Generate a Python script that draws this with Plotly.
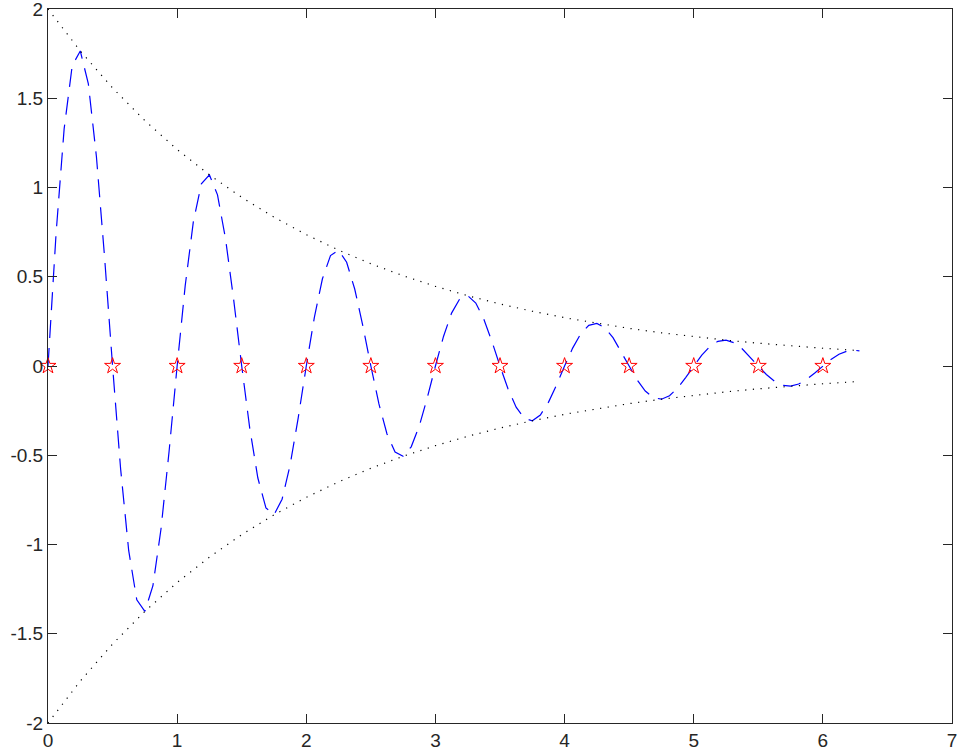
import plotly.graph_objects as go

# Damped oscillation samples
x_curve = [0, 0.0625, 0.125, 0.1875, 0.25, 0.3125, 0.375, 0.4375,
           0.5, 0.5625, 0.625, 0.6875, 0.75, 0.8125, 0.875, 0.9375,
           1.0, 1.0625, 1.125, 1.1875, 1.25, 1.3125, 1.375, 1.4375,
           1.5, 1.5625, 1.625, 1.6875, 1.75, 1.8125, 1.875, 1.9375,
           2.0, 2.0625, 2.125, 2.1875, 2.25, 2.3125, 2.375, 2.4375,
           2.5, 2.5625, 2.625, 2.6875, 2.75, 2.8125, 2.875, 2.9375,
           3.0, 3.0625, 3.125, 3.1875, 3.25, 3.3125, 3.375, 3.4375,
           3.5, 3.5625, 3.625, 3.6875, 3.75, 3.8125, 3.875, 3.9375,
           4.0, 4.0625, 4.125, 4.1875, 4.25, 4.3125, 4.375, 4.4375,
           4.5, 4.5625, 4.625, 4.6875, 4.75, 4.8125, 4.875, 4.9375,
           5.0, 5.0625, 5.125, 5.1875, 5.25, 5.3125, 5.375, 5.4375,
           5.5, 5.5625, 5.625, 5.6875, 5.75, 5.8125, 5.875, 5.9375,
           6.0, 6.0625, 6.125, 6.1875, 6.25, 6.283185]
y_curve = [0, 0.741818, 1.328523, 1.682404, 1.764994, 1.580474, 1.172424, 0.614986,
           0, -0.577729, -1.034655, -1.310258, -1.374579, -1.230875, -0.913085, -0.478952,
           0, 0.449936, 0.805791, 1.020430, 1.070523, 0.958606, 0.711111, 0.373009,
           0, -0.350410, -0.627551, -0.794712, -0.833725, -0.746564, -0.553814, -0.290499,
           0, 0.272899, 0.488736, 0.618921, 0.649304, 0.581423, 0.431310, 0.226241,
           0, -0.212535, -0.380628, -0.482017, -0.505679, -0.452814, -0.335906, -0.176196,
           0, 0.165522, 0.296433, 0.375395, 0.393823, 0.352651, 0.261603, 0.137222,
           0, -0.128909, -0.230863, -0.292358, -0.306710, -0.274646, -0.203737, -0.106869,
           0, 0.100394, 0.179796, 0.227689, 0.238865, 0.213893, 0.158670, 0.083229,
           0, -0.078187, -0.140025, -0.177323, -0.186028, -0.166580, -0.123572, -0.064819,
           0, 0.060892, 0.109052, 0.138100, 0.144880, 0.129733, 0.096239, 0.050481,
           0, -0.047423, -0.084929, -0.107553, -0.112833, -0.101036, -0.074950, -0.039315,
           0, 0.036933, 0.066143, 0.083762, 0.087874, 0.084550]

# Envelope samples
x_env = [0, 0.25, 0.5, 0.75, 1.0, 1.25, 1.5, 1.75, 2.0, 2.25, 2.5, 2.75, 3.0,
         3.25, 3.5, 3.75, 4.0, 4.25, 4.5, 4.75, 5.0, 5.25, 5.5, 5.75, 6.0, 6.25, 6.283185]
env_upper = [2, 1.764994, 1.557602, 1.374579, 1.213062, 1.070523, 0.944734, 0.833725,
             0.735758, 0.649304, 0.573010, 0.505679, 0.446260, 0.393823, 0.347548,
             0.306710, 0.270670, 0.238865, 0.210798, 0.186028, 0.164170, 0.144880,
             0.127856, 0.112833, 0.099574, 0.087874, 0.086428]
env_lower = [-2, -1.764994, -1.557602, -1.374579, -1.213062, -1.070523, -0.944734, -0.833725,
             -0.735758, -0.649304, -0.573010, -0.505679, -0.446260, -0.393823, -0.347548,
             -0.306710, -0.270670, -0.238865, -0.210798, -0.186028, -0.164170, -0.144880,
             -0.127856, -0.112833, -0.099574, -0.087874, -0.086428]

# Zero-crossing star markers
x_stars = [0, 0.5, 1.0, 1.5, 2.0, 2.5, 3.0, 3.5, 4.0, 4.5, 5.0, 5.5, 6.0]
y_stars = [0, 0, 0, 0, 0, 0, 0, 0, 0, 0, 0, 0, 0]

x_ticks = [0, 1, 2, 3, 4, 5, 6, 7]
x_ticktext = ["0", "1", "2", "3", "4", "5", "6", "7"]
y_ticks = [-2, -1.5, -1, -0.5, 0, 0.5, 1, 1.5, 2]
y_ticktext = ["-2", "-1.5", "-1", "-0.5", "0", "0.5", "1", "1.5", "2"]

fig = go.Figure()
fig.add_trace(go.Scatter(x=x_curve, y=y_curve, mode="lines",
                         line=dict(color="#0000ff", width=1.2, dash="18px,10px")))
fig.add_trace(go.Scatter(x=x_env, y=env_upper, mode="lines",
                         line=dict(color="#000000", width=1.2, dash="1.2px,6.5px")))
fig.add_trace(go.Scatter(x=x_env, y=env_lower, mode="lines",
                         line=dict(color="#000000", width=1.2, dash="1.2px,6.5px")))
fig.add_trace(go.Scatter(x=x_stars, y=y_stars, mode="markers", cliponaxis=False,
                         marker=dict(symbol="star-open", size=12, color="#ff0000",
                                     line=dict(color="#ff0000", width=1))))

axis_common = dict(showline=True, linecolor="#262626", linewidth=1, mirror="ticks",
                   ticks="inside", ticklen=9, tickcolor="#262626", tickwidth=1,
                   showgrid=False, zeroline=False, automargin=False,
                   ticklabeloverflow="allow",
                   tickfont=dict(family="Liberation Sans, Arial, sans-serif", size=19,
                                 color="#262626"))
fig.update_layout(
    width=959, height=754,
    margin=dict(l=48, r=7, t=9, b=31),
    paper_bgcolor="white", plot_bgcolor="white",
    showlegend=False,
    xaxis=dict(range=[0, 7], tickvals=x_ticks, ticktext=x_ticktext, **axis_common),
    yaxis=dict(range=[-2, 2], tickvals=y_ticks, ticktext=y_ticktext, **axis_common),
)
fig.write_html(
    "out.html",
    config={"displayModeBar": False},
    post_script="document.body.style.margin='0';document.body.style.overflow='hidden';",
)
